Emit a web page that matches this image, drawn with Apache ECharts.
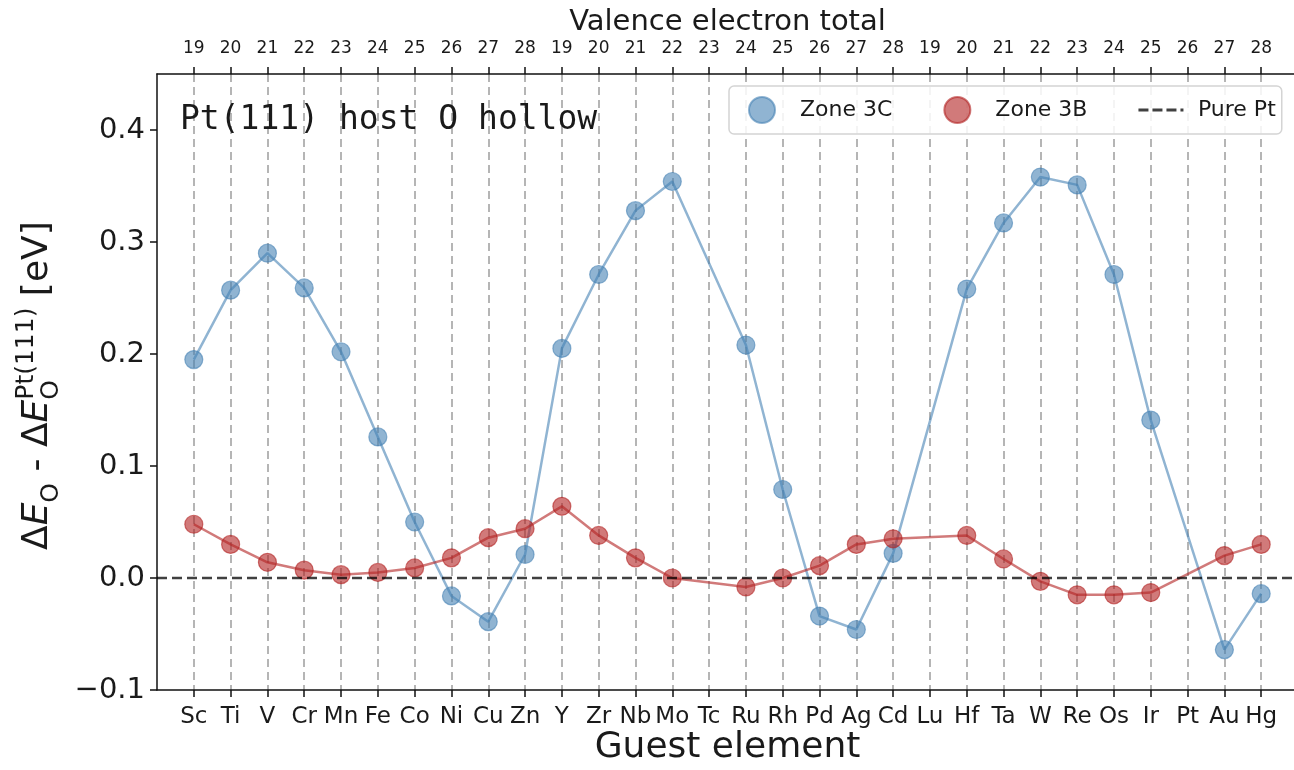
<!DOCTYPE html>
<html>
<head>
<meta charset="utf-8">
<script src="https://cdn.jsdelivr.net/npm/echarts@6/dist/echarts.min.js"></script>
<style>
  html, body { margin: 0; padding: 0; background: #fff; }
  #chart { width: 1294px; height: 770px; }
</style>
</head>
<body>
<div id="chart"></div>
<script>
// Guest elements (3d, 4d, 5d rows) and their valence electron totals
const elements = ['Sc','Ti','V','Cr','Mn','Fe','Co','Ni','Cu','Zn',
                  'Y','Zr','Nb','Mo','Tc','Ru','Rh','Pd','Ag','Cd',
                  'Lu','Hf','Ta','W','Re','Os','Ir','Pt','Au','Hg'];
const valenceTotals = [19,20,21,22,23,24,25,26,27,28,
                       19,20,21,22,23,24,25,26,27,28,
                       19,20,21,22,23,24,25,26,27,28];

// Shift in O binding energy relative to pure Pt(111) [eV]; null = not computed
const zone3C = [0.195, 0.257, 0.290, 0.259, 0.202, 0.126, 0.050, -0.016, -0.039, 0.021,
                0.205, 0.271, 0.328, 0.354, null, 0.208, 0.079, -0.034, -0.046, 0.022,
                null, 0.258, 0.317, 0.358, 0.351, 0.271, 0.141, null, -0.064, -0.014];
const zone3B = [0.048, 0.030, 0.014, 0.007, 0.003, 0.005, 0.009, 0.018, 0.036, 0.044,
                0.064, 0.038, 0.018, 0.000, null, -0.008, 0.000, 0.011, 0.030, 0.035,
                null, 0.038, 0.017, -0.003, -0.015, -0.015, -0.013, null, 0.020, 0.030];
const pureLevel = 0.0;

const yMin = -0.1, yMax = 0.45, yStep = 0.1;

// one empty slot on each side gives the axis its end margins
const pad = arr => [null, ...arr, null];
const bottomCats = pad(elements).map(v => v == null ? '' : v);
const topCats = pad(valenceTotals).map(v => v == null ? '' : String(v));
const inner = i => i > 0 && i <= elements.length;

const FAM = '"DejaVu Sans"';
const BLUE = 'rgba(70,130,180,0.6)';
const RED = 'rgba(178,34,34,0.6)';
const INK = '#1a1a1a';

const GRID = { left: 157, top: 74, width: 1141, height: 616 };

// y-axis title: ΔE_O - ΔE_O^{Pt(111)} [eV], laid out piece by piece
const mctx = document.createElement('canvas').getContext('2d');
const tw = (s, f) => { mctx.font = f; return mctx.measureText(s).width; };
const BIG = 36, SMALL = 25;
const fBig = `${BIG}px ${FAM}`, fIt = `italic ${BIG}px ${FAM}`, fSm = `${SMALL}px ${FAM}`;
const SUB = 13, SUP = -12;
const titleParts = [
  [{ t: 'Δ', f: fBig, dy: 0 }],
  [{ t: 'E', f: fIt, dy: 0 }],
  [{ t: 'O', f: fSm, dy: SUB }],
  [{ t: ' - Δ', f: fBig, dy: 0 }],
  [{ t: 'E', f: fIt, dy: 0 }],
  [{ t: 'O', f: fSm, dy: SUB }, { t: 'Pt(111)', f: fSm, dy: SUP }],
  [{ t: ' [eV]', f: fBig, dy: 0 }]
];
const titleChildren = [];
let cursor = 0;
titleParts.forEach(group => {
  let adv = 0;
  group.forEach(p => {
    titleChildren.push({
      type: 'text', x: cursor, y: p.dy,
      style: { text: p.t, font: p.f, fill: INK, textAlign: 'left', textVerticalAlign: 'middle',
               align: 'left', verticalAlign: 'middle' }
    });
    adv = Math.max(adv, tw(p.t, p.f));
  });
  cursor += adv;
});

// legend text gets a little lead-in space after its icon
const legendFormat = name => (name === 'Pure Pt' ? '{leadL| }' : '{leadS| }') + name;

const chart = echarts.init(document.getElementById('chart'), null, { renderer: 'canvas' });

chart.setOption({
  animation: false,
  backgroundColor: '#fff',
  textStyle: { fontFamily: FAM },
  grid: Object.assign({ containLabel: false, outerBoundsMode: 'none' }, GRID),
  legend: {
    left: 729, top: 86,
    padding: [10, 6, 10, 19],
    itemGap: 51, itemWidth: 45, itemHeight: 26,
    borderColor: '#d4d4d4', borderWidth: 1.5, borderRadius: 5,
    backgroundColor: 'rgba(255,255,255,0.85)',
    formatter: legendFormat,
    textStyle: {
      fontSize: 22, color: INK, fontFamily: FAM,
      rich: {
        leadS: { width: 10.5, fontSize: 22, fontFamily: FAM },
        leadL: { width: 9.5, fontSize: 22, fontFamily: FAM }
      }
    },
    data: [
      { name: 'Zone 3C', icon: 'circle', itemStyle: { color: BLUE } },
      { name: 'Zone 3B', icon: 'circle', itemStyle: { color: RED } },
      { name: 'Pure Pt', icon: 'path://M0,0h10v3h-10z M14,0h10v3h-10z M28,0h10v3h-10z M42,0h3v3h-3z',
        itemStyle: { color: 'rgba(0,0,0,0.75)' } }
    ]
  },
  xAxis: [
    {
      type: 'category', position: 'bottom', boundaryGap: false, data: bottomCats,
      name: 'Guest element', nameLocation: 'middle', nameGap: 40, nameMoveOverlap: false,
      nameTextStyle: { fontSize: 36, color: INK, fontFamily: FAM },
      axisLine: { show: true, onZero: false, lineStyle: { color: '#111', width: 1.5 } },
      axisTick: { show: true, length: 7, interval: inner, lineStyle: { color: '#111', width: 1.5 } },
      axisLabel: { interval: 0, fontSize: 23, color: INK, margin: 16, fontFamily: FAM },
      splitLine: { show: true, interval: inner,
                   lineStyle: { type: [8, 5], color: 'rgba(120,120,120,0.55)', width: 2 } }
    },
    {
      type: 'category', position: 'top', boundaryGap: false, data: topCats,
      axisLine: { show: true, onZero: false, lineStyle: { color: '#111', width: 1.5 } },
      axisTick: { show: true, length: 7, interval: inner, lineStyle: { color: '#111', width: 1.5 } },
      axisLabel: { interval: 0, fontSize: 17, color: INK, margin: 17, fontFamily: FAM },
      splitLine: { show: false }
    }
  ],
  yAxis: {
    type: 'value', min: yMin, max: yMax, interval: yStep,
    axisLine: { show: true, lineStyle: { color: '#111', width: 1.5 } },
    axisTick: { show: true, length: 7, lineStyle: { color: '#111', width: 1.5 } },
    axisLabel: {
      fontSize: 29, color: INK, margin: 12, fontFamily: FAM, showMaxLabel: false,
      formatter: v => Math.abs(v - yMax) < 1e-9 ? '' : (v < -1e-9 ? '\u2212' : '') + Math.abs(v).toFixed(1)
    },
    splitLine: { show: false }
  },
  series: [
    {
      name: 'Zone 3C', type: 'line', xAxisIndex: 0, data: pad(zone3C), connectNulls: true,
      symbol: 'circle', symbolSize: 18, z: 3,
      lineStyle: { color: BLUE, width: 2.5 },
      itemStyle: { color: BLUE, borderColor: BLUE, borderWidth: 1.2 }
    },
    {
      name: 'Zone 3B', type: 'line', xAxisIndex: 0, data: pad(zone3B), connectNulls: true,
      symbol: 'circle', symbolSize: 18, z: 4,
      lineStyle: { color: RED, width: 2.5 },
      itemStyle: { color: RED, borderColor: RED, borderWidth: 1.2 }
    },
    {
      name: 'Pure Pt', type: 'line', xAxisIndex: 0,
      data: bottomCats.map(() => pureLevel), symbol: 'none', z: 5, silent: true,
      lineStyle: { type: [10, 5], color: 'rgba(0,0,0,0.75)', width: 2.5 },
      itemStyle: { color: 'rgba(0,0,0,0.75)' }
    }
  ],
  graphic: [
    {
      // title of the top (valence electron) axis, centred over the plot
      type: 'text', x: GRID.left + GRID.width / 2, y: 22, z: 10,
      style: { text: 'Valence electron total', font: `29px ${FAM}`, fill: INK,
               textAlign: 'center', textVerticalAlign: 'middle', align: 'center', verticalAlign: 'middle' }
    },
    {
      type: 'text', left: 180, top: 104, z: 10,
      style: { text: 'Pt(111) host O hollow', font: `33px "DejaVu Sans Mono"`, fill: INK }
    },
    {
      type: 'group', x: 38, y: 550, rotation: Math.PI / 2,
      children: titleChildren
    }
  ]
});
</script>
</body>
</html>
